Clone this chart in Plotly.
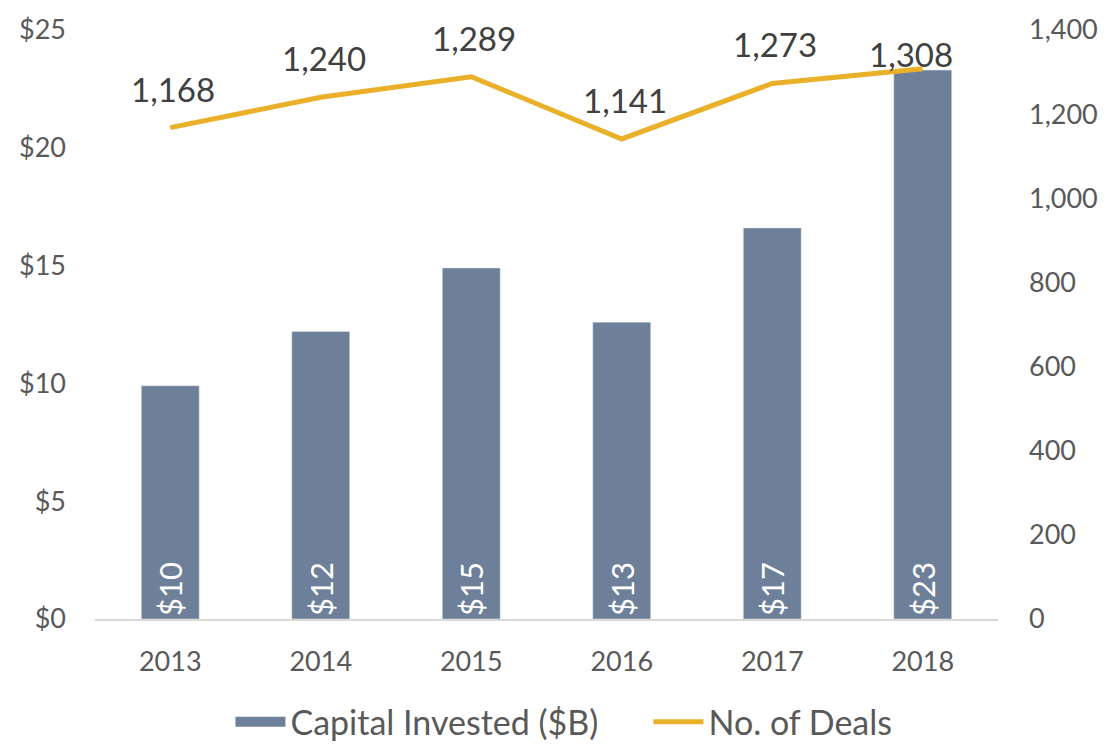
import plotly.graph_objects as go

# chart data
years = ['2013', '2014', '2015', '2016', '2017', '2018']
capital_invested = [9.9, 12.2, 14.9, 12.6, 16.6, 23.3]
capital_labels = ['$10', '$12', '$15', '$13', '$17', '$23']
deal_counts = [1168, 1240, 1289, 1141, 1273, 1308]

FONT = 'Lato, Carlito, Calibri, sans-serif'
GREY = '#595959'
BAR_COLOR = '#6E8099'
LINE_COLOR = '#EAB02A'

fig = go.Figure()

fig.add_trace(go.Bar(
    x=years, y=capital_invested, name='Capital Invested ($B)',
    marker_color=BAR_COLOR, showlegend=False,
    text=capital_labels, textposition='inside', insidetextanchor='start',
    textangle=-90, textfont=dict(color='white', size=31, family=FONT),
    constraintext='none',
))

# legend proxy so the bar key is drawn as a wide block like the original
fig.add_trace(go.Scatter(
    x=[years[0]], y=[None], mode='lines', name='Capital Invested ($B)',
    line=dict(color=BAR_COLOR, width=20),
))

fig.add_trace(go.Scatter(
    x=years, y=deal_counts, name='No. of Deals', yaxis='y2',
    mode='lines', line=dict(color=LINE_COLOR, width=5),
))

# deal count labels sit well above the line (x given as category index);
# the last one is pulled down/left onto the line as in the original
for i, v in enumerate(deal_counts):
    last = i == len(deal_counts) - 1
    fig.add_annotation(x=i, y=v, xref='x', yref='y2', text=f'{v:,}', showarrow=False,
                       yshift=15 if last else 39, xshift=-12 if last else 3,
                       font=dict(color='#404040', size=33, family=FONT))

# page body has an 8px margin, so the figure is sized to fill the rest of the window
fig.update_layout(
    width=1099, height=736,
    margin=dict(l=87, r=109, t=22, b=125, autoexpand=False),
    plot_bgcolor='white', paper_bgcolor='white',
    font=dict(family=FONT, color=GREY, size=28),
    bargap=0.615,
    showlegend=True,
    legend=dict(orientation='h', x=0.15, xanchor='left', y=-0.175, yanchor='middle',
                font=dict(size=34, color=GREY), itemwidth=50, entrywidth=353,
                traceorder='normal', tracegroupgap=0),
    xaxis=dict(type='category', range=[-0.5, len(years) - 0.5], showgrid=False,
               showline=True, linecolor='#D9D9D9', linewidth=2, ticks='',
               ticklabelstandoff=18, tickfont=dict(size=27), automargin=False),
    yaxis=dict(range=[0, 25], dtick=5, tickprefix='$', showgrid=False, zeroline=False,
               showline=False, ticks='', ticklabelstandoff=28, tickfont=dict(size=27),
               automargin=False),
    yaxis2=dict(range=[0, 1400], dtick=200, tickformat=',', overlaying='y', side='right',
                showgrid=False, zeroline=False, showline=False, ticks='',
                ticklabelstandoff=30, tickfont=dict(size=27), automargin=False),
)

fig.write_html('out.html')
